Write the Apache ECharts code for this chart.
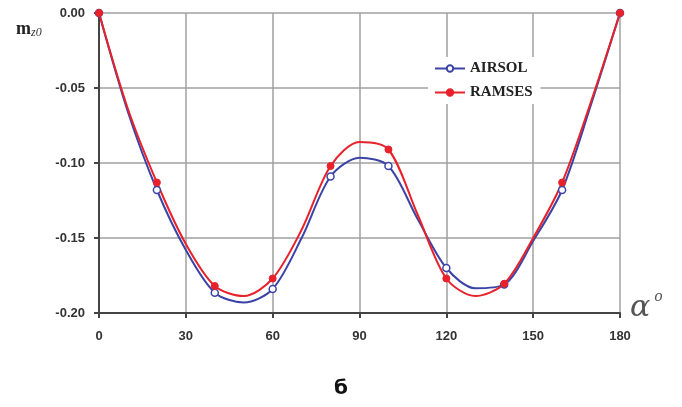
<!DOCTYPE html>
<html><head><meta charset="utf-8">
<script src="https://cdn.jsdelivr.net/npm/echarts@6/dist/echarts.min.js"></script>
<style>html,body{margin:0;padding:0;background:#fff}#c{width:682px;height:407px}</style>
</head><body><div id="c"></div>
<script>
// angles (degrees) along the curves
const angles = [0,10,20,30,40,50,60,70,80,90,100,110,120,130,140,150,160,170,180];
// angles that carry a marker
const markerAngles = [0,20,40,60,80,100,120,140,160,180];
const airsol = [0,-0.066,-0.118,-0.158,-0.1865,-0.193,-0.184,-0.150,-0.109,-0.0965,-0.102,-0.137,-0.170,-0.1835,-0.181,-0.152,-0.118,-0.061,0];
const ramses = [0,-0.064,-0.113,-0.154,-0.182,-0.1887,-0.177,-0.1445,-0.102,-0.086,-0.091,-0.134,-0.177,-0.1887,-0.1805,-0.150,-0.113,-0.059,0];
const xTicks = [0,30,60,90,120,150,180];
const yTicks = [-0.20,-0.15,-0.10,-0.05,0.00];

function build(vals){
  return angles.map((a,i)=> markerAngles.includes(a) ? [a, vals[i]] : {value:[a, vals[i]], symbol:'none'});
}
const BLUE = '#3b44a6', RED = '#e8212b';
const chart = echarts.init(document.getElementById('c'));
chart.setOption({
  animation:false,
  backgroundColor:'#fff',
  grid:{left:99,right:62,top:13,bottom:94},
  xAxis:{type:'value',min:xTicks[0],max:xTicks[xTicks.length-1],interval:30,
    axisLine:{onZero:false,lineStyle:{color:'#444',width:2}},
    axisTick:{show:true,length:5,inside:false,lineStyle:{color:'#444',width:2}},
    axisLabel:{margin:17,color:'#333',fontFamily:'Liberation Sans',fontWeight:'bold',fontSize:13},
    splitLine:{show:true,lineStyle:{color:'#a0a0a0',width:1.5}}},
  yAxis:{type:'value',min:yTicks[0],max:yTicks[yTicks.length-1],interval:0.05,
    axisLine:{show:true,onZero:false,lineStyle:{color:'#444',width:2}},
    axisTick:{show:true,length:5,lineStyle:{color:'#444',width:2}},
    axisLabel:{margin:14,color:'#333',fontFamily:'Liberation Sans',fontWeight:'bold',fontSize:13,
      formatter:v=>v.toFixed(2)},
    splitLine:{show:true,lineStyle:{color:'#a0a0a0',width:1.5}}},
  legend:{orient:'vertical',left:428,top:57,itemWidth:30,itemHeight:8,itemGap:9,
    backgroundColor:'#fff',padding:[4,8,4,6],
    textStyle:{fontFamily:'Liberation Serif',fontWeight:'bold',fontSize:15,color:'#222'},
    data:['AIRSOL','RAMSES']},
  title:{text:'б',left:'center',top:374,textStyle:{fontFamily:'DejaVu Sans',fontWeight:'bold',fontSize:20,color:'#111'}},
  graphic:[
    {type:'text',left:16,top:20,style:{
      text:'{m|m}{s|z0}',
      rich:{m:{fontFamily:'Liberation Serif',fontWeight:'bold',fontSize:18,fill:'#222'},
            s:{fontFamily:'Liberation Serif',fontStyle:'italic',fontSize:12,fill:'#333',padding:[8,0,0,0]}}}},
    {type:'text',left:630,top:290,style:{
      text:'{a|α}{o|o}',
      rich:{a:{fontFamily:'DejaVu Serif',fontStyle:'italic',fontSize:30,fill:'#555'},
            o:{fontFamily:'DejaVu Serif',fontStyle:'italic',fontSize:14,fill:'#555',padding:[0,0,22,4]}}}}
  ],
  series:[
    {name:'AIRSOL',type:'line',smooth:0.3,data:build(airsol),
      symbol:'circle',symbolSize:7,
      lineStyle:{color:BLUE,width:2},
      itemStyle:{color:'#fff',borderColor:BLUE,borderWidth:1.5}},
    {name:'RAMSES',type:'line',smooth:0.3,data:build(ramses),
      symbol:'circle',symbolSize:7,
      lineStyle:{color:RED,width:2},
      itemStyle:{color:RED,borderColor:RED,borderWidth:1}}
  ]
});
</script></body></html>
